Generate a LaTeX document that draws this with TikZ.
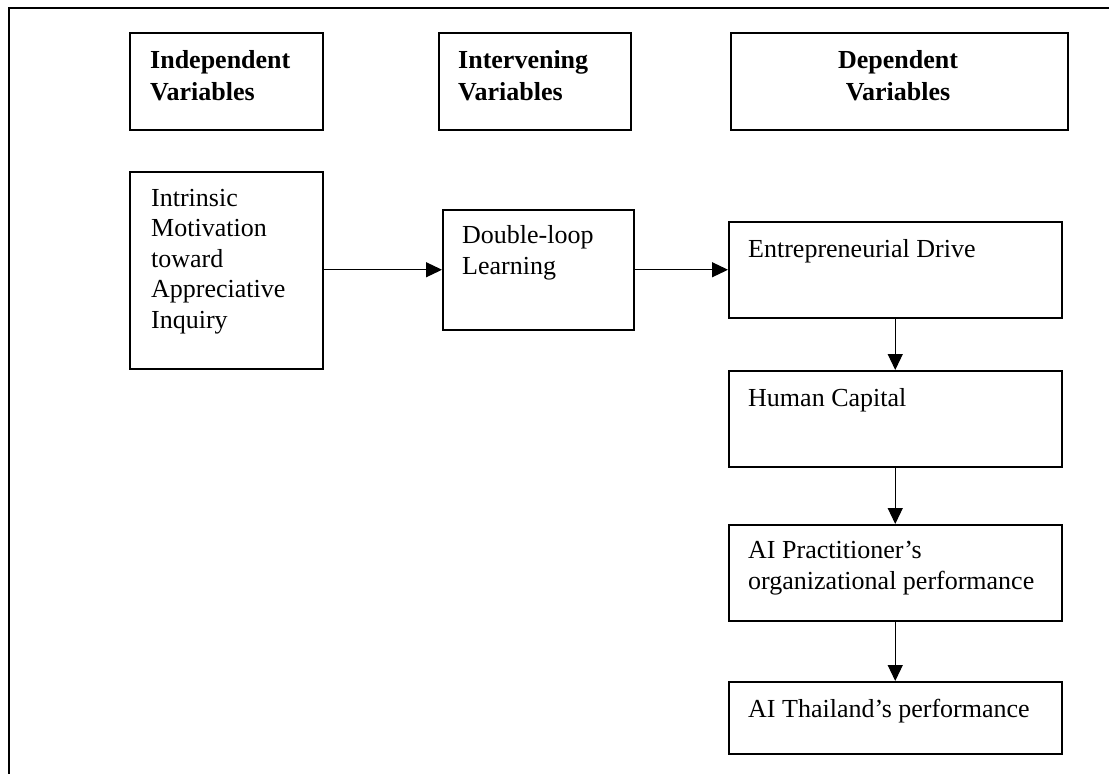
\documentclass[tikz,border=0pt]{standalone}
\usepackage{fontspec}
\setmainfont{Liberation Serif}
\usetikzlibrary{arrows.meta}

\begin{document}
\begin{tikzpicture}[x=1pt,y=-1pt,
  box/.style={draw,line width=1.5pt,inner sep=0pt,anchor=north west},
  % multi-line labels are placed by the baseline of their last line
  lbl/.style={anchor=base west,inner sep=0pt,align=left,
              font=\fontsize{26}{30.5}\selectfont},
  hdr/.style={anchor=base west,inner sep=0pt,align=left,
              font=\fontsize{26}{32}\selectfont\bfseries},
  link/.style={-{Triangle[length=16pt,width=15pt]},line width=1.2pt}]

\useasboundingbox (0,0) rectangle (1109,774);

% open frame: top and left rules only
\draw[line width=2pt] (8.5,774) -- (8.5,7.5) -- (1109,7.5);

% column headers
\node[box,minimum width=193pt,minimum height=97pt] (ind) at (129,32) {};
\node[box,minimum width=192pt,minimum height=97pt] (intv) at (438,32) {};
\node[box,minimum width=337pt,minimum height=97pt] (dep) at (730,32) {};
\node[hdr] (indT) at (150,100) {Independent\\Variables};
\node[hdr] (intvT) at (458,100) {Intervening\\Variables};
\node[hdr,anchor=base,align=center] (depT) at (898,100) {Dependent\\Variables};

% variable boxes
\node[box,minimum width=193pt,minimum height=197pt] (mot) at (129,171) {};
\node[box,minimum width=191pt,minimum height=120pt] (dll) at (442,209) {};
\node[box,minimum width=333pt,minimum height=96pt] (ent) at (728,221) {};
\node[box,minimum width=333pt,minimum height=96pt] (hc) at (728,370) {};
\node[box,minimum width=333pt,minimum height=96pt] (prac) at (728,524) {};
\node[box,minimum width=333pt,minimum height=72pt] (thai) at (728,681) {};

\node[lbl] (motT) at (151,328) {Intrinsic\\Motivation\\toward\\Appreciative\\Inquiry};
\node[lbl,font=\fontsize{26}{31}\selectfont] (dllT) at (462,274) {Double-loop\\Learning};
\node[lbl] (entT) at (748,257) {Entrepreneurial Drive};
\node[lbl] (hcT) at (748,406) {Human Capital};
\node[lbl,font=\fontsize{26}{31}\selectfont] (pracT) at (748,589) {AI Practitioner’s\\organizational performance};
\node[lbl] (thaiT) at (748,717) {AI Thailand’s performance};

% connectors
\draw[link] (mot.east |- dll.west) -- (dll.west);
\draw[link] (dll.east) -- (ent.west);
\draw[link] (ent.south) -- (hc.north);
\draw[link] (hc.south) -- (prac.north);
\draw[link] (prac.south) -- (thai.north);
\end{tikzpicture}
\end{document}
